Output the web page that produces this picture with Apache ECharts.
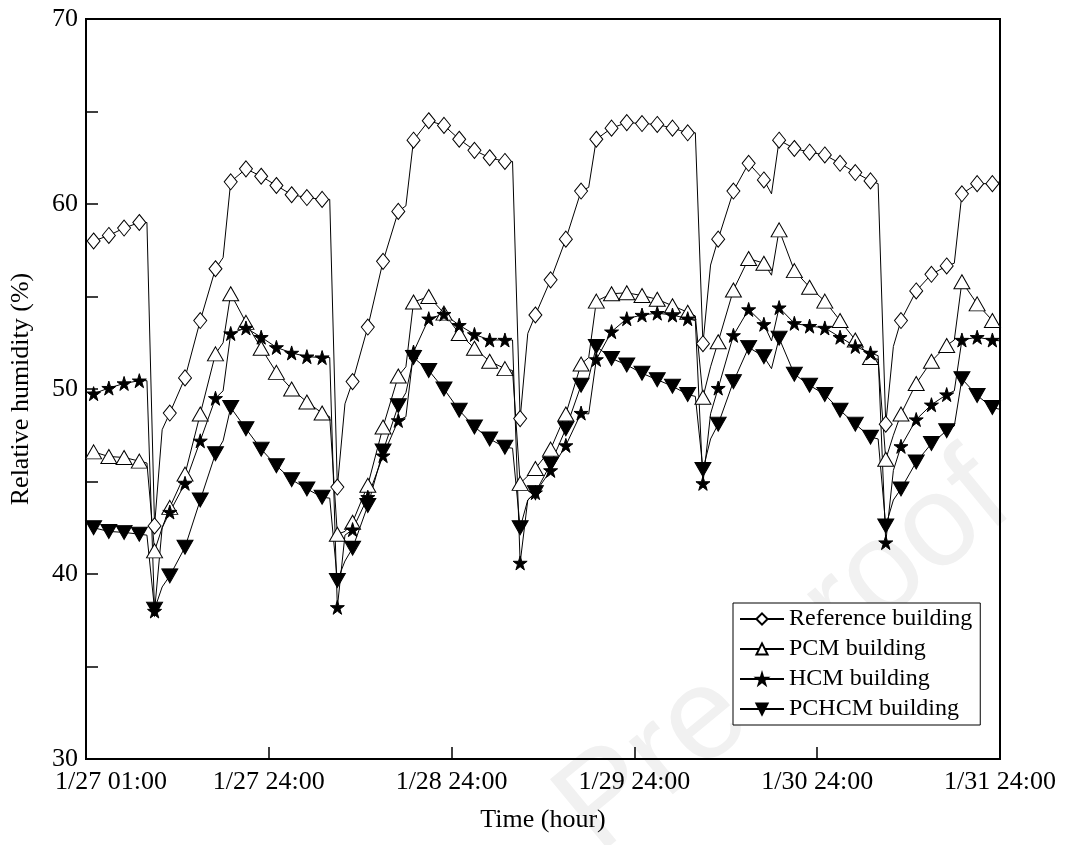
<!DOCTYPE html>
<html>
<head>
<meta charset="utf-8">
<script src="https://cdn.jsdelivr.net/npm/echarts@6/dist/echarts.min.js"></script>
<style>
  html, body { margin: 0; padding: 0; background: #fff; }
  #chart { width: 1075px; height: 845px; }
</style>
</head>
<body>
<div id="chart"></div>
<script>
// x axis tick labels (every 24 h)
const xTickLabels = ['1/27 01:00', '1/27 24:00', '1/28 24:00', '1/29 24:00', '1/30 24:00', '1/31 24:00'];

// hours that carry a marker (every second hour)
const markHours = [1, 3, 5, 7, 9, 11, 13, 15, 17, 19, 21, 23,
  25, 27, 29, 31, 33, 35, 37, 39, 41, 43, 45, 47,
  49, 51, 53, 55, 57, 59, 61, 63, 65, 67, 69, 71,
  73, 75, 77, 79, 81, 83, 85, 87, 89, 91, 93, 95,
  97, 99, 101, 103, 105, 107, 109, 111, 113, 115, 117, 119];

// relative humidity (%) at the marked hours
const refValues = [58.0, 58.3, 58.7, 59.0, 42.6, 48.7, 50.6, 53.7, 56.5, 61.2, 61.9, 61.5,
  61.0, 60.5, 60.35, 60.25, 44.7, 50.4, 53.35, 56.9, 59.6, 63.45, 64.5, 64.25,
  63.5, 62.9, 62.5, 62.3, 48.4, 54.0, 55.9, 58.1, 60.7, 63.5, 64.1, 64.4,
  64.35, 64.3, 64.1, 63.85, 52.45, 58.1, 60.7, 62.2, 61.3, 63.45, 63.0, 62.8,
  62.65, 62.2, 61.7, 61.25, 48.1, 53.7, 55.3, 56.2, 56.65, 60.55, 61.1, 61.1];
const pcmValues = [46.6, 46.35, 46.3, 46.1, 41.25, 43.6, 45.4, 48.65, 51.9, 55.15, 53.6, 52.2,
  50.9, 50.0, 49.3, 48.7, 42.15, 42.8, 44.8, 47.95, 50.7, 54.7, 55.0, 54.1,
  53.0, 52.2, 51.5, 51.1, 44.9, 45.7, 46.75, 48.65, 51.35, 54.75, 55.15, 55.2,
  55.05, 54.85, 54.5, 54.15, 49.55, 52.55, 55.35, 57.05, 56.8, 58.6, 56.4, 55.5,
  54.75, 53.7, 52.65, 51.7, 46.2, 48.65, 50.3, 51.5, 52.35, 55.8, 54.6, 53.7];
const hcmValues = [49.75, 50.05, 50.3, 50.45, 38.0, 43.35, 44.9, 47.2, 49.5, 53.0, 53.3, 52.8,
  52.25, 51.95, 51.75, 51.7, 38.2, 42.4, 44.15, 46.4, 48.3, 52.0, 53.8, 54.05,
  53.45, 52.95, 52.65, 52.65, 40.6, 44.4, 45.6, 46.95, 48.7, 51.6, 53.1, 53.8,
  54.0, 54.1, 54.0, 53.8, 44.9, 50.05, 52.9, 54.3, 53.5, 54.4, 53.55, 53.4,
  53.3, 52.8, 52.3, 51.95, 41.7, 46.9, 48.35, 49.15, 49.7, 52.65, 52.8, 52.65];
const pchcmValues = [42.5, 42.3, 42.25, 42.15, 38.1, 39.9, 41.45, 44.0, 46.5, 49.0, 47.85, 46.75,
  45.85, 45.1, 44.6, 44.15, 39.65, 41.4, 43.7, 46.65, 49.1, 51.7, 51.0, 50.0,
  48.85, 47.95, 47.3, 46.85, 42.5, 44.4, 45.95, 47.85, 50.2, 52.3, 51.65, 51.3,
  50.85, 50.5, 50.15, 49.7, 45.65, 48.1, 50.4, 52.25, 51.75, 52.75, 50.8, 50.2,
  49.7, 48.85, 48.1, 47.4, 42.6, 44.6, 46.05, 47.05, 47.75, 50.55, 49.65, 49.0];

// unmarked hourly points where the line visibly bends: [hour, value]
const refExtra = [[8, 59.0], [10, 47.8], [18, 57.1], [32, 60.25], [34, 49.2], [42, 59.9],
  [56, 62.3], [58, 53.0], [66, 60.9], [80, 63.85], [82, 56.7], [90, 60.55],
  [104, 61.1], [106, 52.3], [114, 56.8], [120, 61.2]];
const pcmExtra = [[8, 46.0], [10, 42.5], [18, 52.5], [32, 48.5], [34, 42.3], [42, 51.2],
  [56, 51.0], [58, 45.3], [66, 51.7], [80, 53.95], [82, 51.2], [90, 56.15],
  [104, 51.6], [106, 47.5], [114, 52.65], [120, 53.4]];
const hcmExtra = [[8, 50.45], [10, 42.5], [18, 49.9], [32, 51.7], [34, 42.1], [42, 48.5],
  [56, 52.65], [58, 44.0], [66, 48.65], [80, 53.7], [82, 48.66], [90, 52.6],
  [104, 51.8], [106, 45.6], [114, 49.9], [120, 52.6]];
const pchcmExtra = [[8, 42.1], [10, 39.3], [18, 47.2], [32, 44.1], [34, 40.7], [42, 49.8],
  [56, 46.8], [58, 44.0], [66, 50.6], [80, 49.6], [82, 47.3], [90, 51.1],
  [104, 47.3], [106, 44.0], [114, 48.0], [120, 48.9]];

const seriesNames = ['Reference building', 'PCM building', 'HCM building', 'PCHCM building'];

const FONT = '"Liberation Serif", "Times New Roman", serif';
const STAR = 'path://M50,0 L61,35 L98,35 L68,57 L79,91 L50,70 L21,91 L32,57 L2,35 L39,35 Z';

function buildData(values, extra) {
  let pts = markHours.map((h, i) => ({ value: [h, values[i]] }));
  extra.forEach(p => pts.push({ value: [p[0], p[1]], symbol: 'none' }));
  pts.sort((a, b) => a.value[0] - b.value[0]);
  return pts;
}

function makeSeries(name, values, extra, symbol, size, fill, rotate) {
  return {
    name: name,
    type: 'line',
    data: buildData(values, extra),
    symbol: symbol,
    symbolSize: size,
    symbolRotate: rotate || 0,
    showSymbol: true,
    lineStyle: { color: '#000', width: 1 },
    itemStyle: { color: fill, borderColor: '#000', borderWidth: 1 },
    emphasis: { disabled: true }
  };
}

let myChart = echarts.init(document.getElementById('chart'));
myChart.setOption({
  animation: false,
  backgroundColor: '#fff',
  // faint watermark of the source page
  graphic: [{
    type: 'text',
    x: 785,
    y: 655,
    rotation: 0.69,
    z: -10,
    silent: true,
    style: {
      text: 'Pre-proof',
      font: '130px "Liberation Sans", sans-serif',
      fill: '#f1f1f1',
      align: 'center',
      verticalAlign: 'middle'
    }
  }],
  grid: {
    left: 85,
    right: 75,
    top: 19,
    bottom: 86,
    show: true,
    borderColor: '#000',
    borderWidth: 2
  },
  legend: {
    orient: 'vertical',
    left: 733,
    top: 603,
    itemWidth: 44,
    itemHeight: 14,
    itemGap: 6,
    padding: [4, 8, 4, 6],
    backgroundColor: '#fff',
    borderColor: '#000',
    borderWidth: 1,
    textStyle: { fontFamily: FONT, fontSize: 24, color: '#000' },
    data: seriesNames
  },
  xAxis: {
    type: 'value',
    min: 0,
    max: 120,
    interval: 24,
    name: 'Time (hour)',
    nameLocation: 'middle',
    nameGap: 48,
    nameTextStyle: { fontFamily: FONT, fontSize: 26, color: '#000' },
    axisLine: { lineStyle: { color: '#000', width: 2 } },
    axisTick: { inside: true, length: 12, lineStyle: { color: '#000', width: 1.5 } },
    axisLabel: {
      fontFamily: FONT,
      fontSize: 26,
      color: '#000',
      margin: 10,
      formatter: function (v) {
        let s = xTickLabels[Math.round(v / 24)];
        return v === 0 ? '{first|' + s + '}' : s;
      },
      rich: {
        first: { fontFamily: FONT, fontSize: 26, color: '#000', padding: [0, 0, 0, 50] }
      }
    },
    splitLine: { show: false }
  },
  yAxis: {
    type: 'value',
    min: 30,
    max: 70,
    interval: 10,
    name: 'Relative humidity (%)',
    nameLocation: 'middle',
    nameGap: 52,
    nameTextStyle: { fontFamily: FONT, fontSize: 26, color: '#000' },
    axisLine: { show: true, lineStyle: { color: '#000', width: 2 } },
    axisTick: { inside: true, length: 12, lineStyle: { color: '#000', width: 1.5 } },
    minorTick: { show: true, splitNumber: 2, length: 12, lineStyle: { color: '#000', width: 1.5 } },
    axisLabel: { fontFamily: FONT, fontSize: 26, color: '#000', margin: 8 },
    splitLine: { show: false }
  },
  series: [
    makeSeries(seriesNames[0], refValues, refExtra, 'diamond', [13, 16], '#fff'),
    makeSeries(seriesNames[1], pcmValues, pcmExtra, 'triangle', [16, 14], '#fff'),
    makeSeries(seriesNames[2], hcmValues, hcmExtra, STAR, 14, '#000'),
    makeSeries(seriesNames[3], pchcmValues, pchcmExtra, 'triangle', [16, 14], '#000', 180)
  ]
});
</script>
</body>
</html>
